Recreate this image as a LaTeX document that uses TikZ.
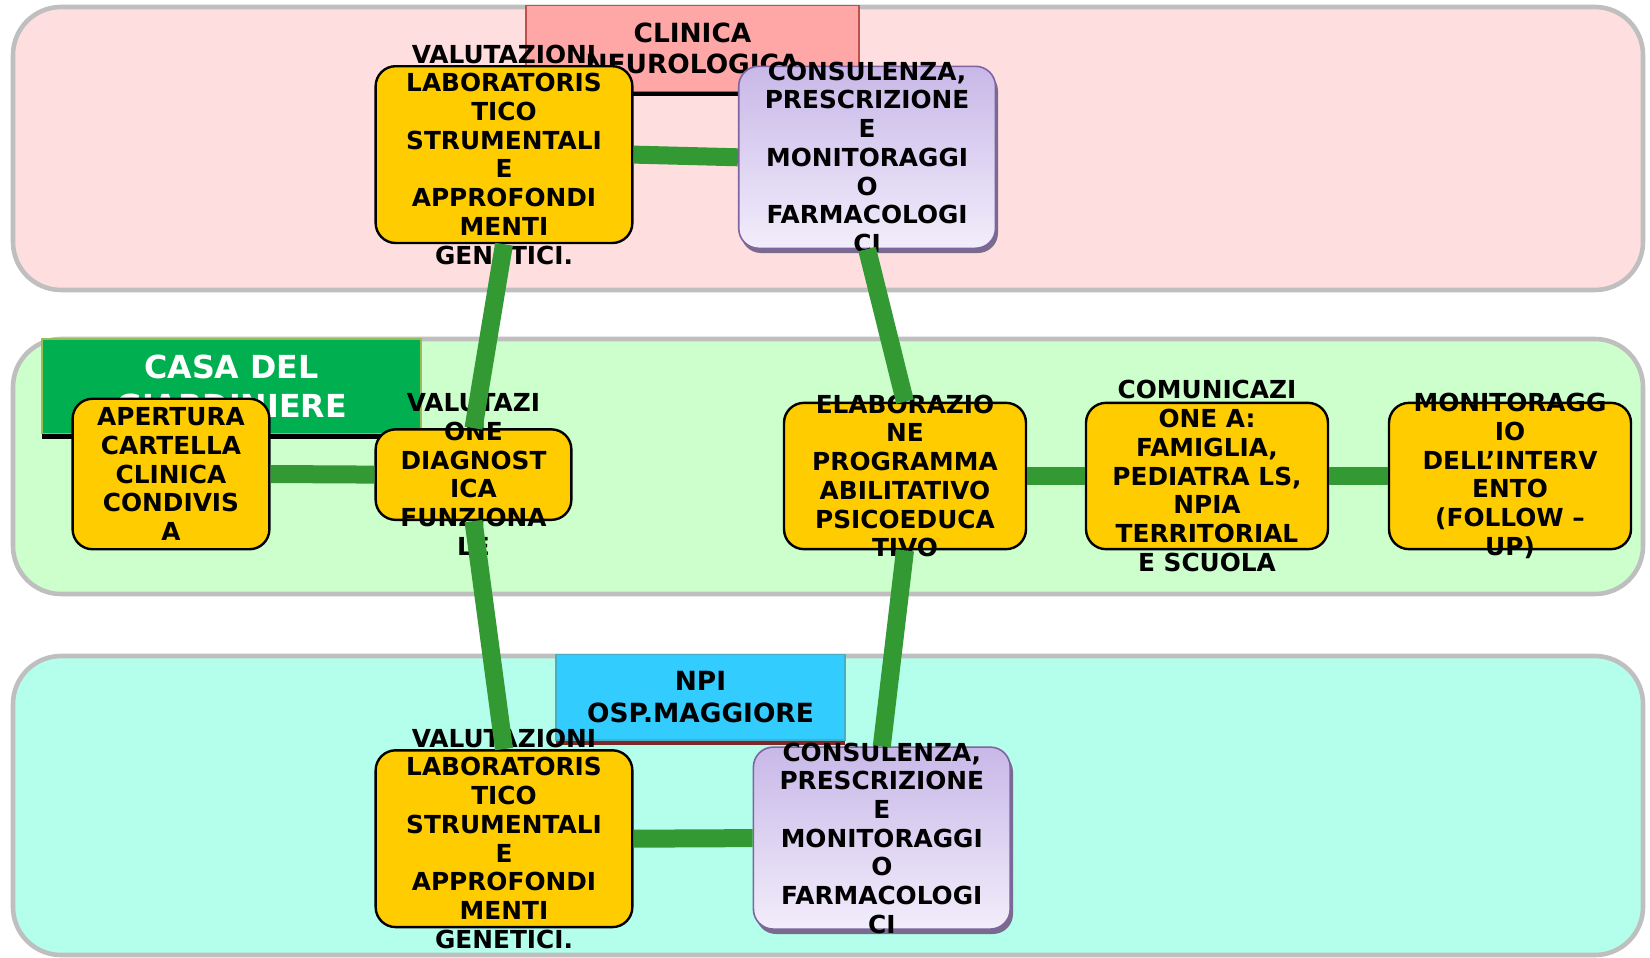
\documentclass[tikz,border=0pt]{standalone}
\usepackage{fontspec}
\setmainfont{DejaVu Sans}

\definecolor{bandedge}{RGB}{191,191,191}
\definecolor{pinkband}{RGB}{255,222,223}
\definecolor{greenband}{RGB}{204,255,204}
\definecolor{aquaband}{RGB}{179,255,236}
\definecolor{stepyellow}{RGB}{255,204,0}
\definecolor{linkgreen}{RGB}{51,153,51}
\definecolor{clinfill}{RGB}{255,166,166}
\definecolor{clinedge}{RGB}{192,80,77}
\definecolor{casafill}{RGB}{0,176,80}
\definecolor{casaedge}{RGB}{155,187,89}
\definecolor{npifill}{RGB}{51,204,255}
\definecolor{npiedge}{RGB}{75,172,198}
\definecolor{npishade}{RGB}{125,40,40}
\definecolor{lilactop}{RGB}{200,184,232}
\definecolor{lilacbot}{RGB}{242,237,251}
\definecolor{lilacedge}{RGB}{128,100,162}
\definecolor{lilacshade}{RGB}{120,108,140}

\begin{document}
\begin{tikzpicture}[x=0.5pt,y=0.5pt,yscale=-1,xscale=1,
  band/.style={draw=bandedge, line width=2.3pt, rounded corners=24pt},
  titlebox/.style={line width=0.6pt, inner sep=0pt, align=center, font=\bfseries\fontsize{13.2}{15.8}\selectfont},
  stepbox/.style={draw=black, line width=1.2pt, fill=stepyellow, rounded corners=10pt, inner sep=0pt},
  lilacbox/.style={draw=lilacedge, line width=0.8pt, top color=lilactop, bottom color=lilacbot, rounded corners=10pt, inner sep=0pt, minimum width=128.4pt, minimum height=91pt},
  boxtext/.style={inner sep=0pt, align=center, font=\bfseries\fontsize{12.4}{14.35}\selectfont},
  link/.style={draw=linkgreen, line width=9pt}]
\useasboundingbox (0,0) rectangle (1650,958);

%Shape: Rounded Rect (bands)
\draw[band, fill=pinkband] (13,7) rectangle (1643,290);
\draw[band, fill=greenband] (13,339) rectangle (1643,594);
\draw[band, fill=aquaband] (13,656) rectangle (1643,955);

%Shape: Rectangle (titles and their shadows)
\fill[black] (528,10) rectangle (859,96);
\node[titlebox, draw=clinedge, fill=clinfill, minimum width=166.5pt, minimum height=43.1pt] (clin) at (692.5,48.4) {CLINICA\\NEUROLOGICA};
\fill[black] (42,344) rectangle (421,439);
\node[titlebox, draw=casaedge, fill=casafill, text=white, minimum width=189.5pt, minimum height=47.25pt, font=\bfseries\fontsize{15.85}{19.5}\selectfont] (casa) at (231.5,386.25) {CASA DEL\\GIARDINIERE};
\fill[npishade] (556,659) rectangle (845,745);
\node[titlebox, draw=npiedge, fill=npifill, minimum width=144.5pt, minimum height=42.75pt] (npi) at (700.5,697.25) {NPI\\OSP.MAGGIORE};

%Shape: shadows of the lilac boxes
\fill[lilacshade, rounded corners=10pt] (741,71) rectangle (998,253);
\fill[lilacshade, rounded corners=10pt] (756,752) rectangle (1013,934);

% Boxes
\node[stepbox, minimum width=128.35pt, minimum height=88.4pt, label={[boxtext]center:{VALUTAZIONI\\LABORATORIS\\TICO\\STRUMENTALI\\E\\APPROFONDI\\MENTI\\GENETICI.}}] (lab1) at (504,154.6) {};
\node[lilacbox, label={[boxtext]center:{CONSULENZA,\\PRESCRIZIONE\\E\\MONITORAGGI\\O\\FARMACOLOGI\\CI}}] (farm1) at (867.1,157.3) {};
\node[stepbox, minimum width=98.4pt, minimum height=75.25pt, label={[boxtext]center:{APERTURA\\CARTELLA\\CLINICA\\CONDIVIS\\A}}] (cart) at (171,474) {};
\node[stepbox, minimum width=97.85pt, minimum height=45.25pt, label={[boxtext]center:{VALUTAZI\\ONE\\DIAGNOST\\ICA\\FUNZIONA\\LE}}] (diag) at (473.5,474.6) {};
\node[stepbox, minimum width=121pt, minimum height=73.15pt, label={[boxtext]center:{ELABORAZIO\\NE\\PROGRAMMA\\ABILITATIVO\\PSICOEDUCA\\TIVO}}] (prog) at (905,476) {};
\node[stepbox, minimum width=121pt, minimum height=73.15pt, label={[boxtext]center:{COMUNICAZI\\ONE A:\\FAMIGLIA,\\PEDIATRA LS,\\NPIA\\TERRITORIAL\\E SCUOLA}}] (comu) at (1207,476) {};
\node[stepbox, minimum width=121pt, minimum height=73.15pt, label={[boxtext]center:{MONITORAGG\\IO\\DELL’INTERV\\ENTO\\(FOLLOW –\\UP)}}] (moni) at (1510,476) {};
\node[stepbox, minimum width=128.35pt, minimum height=88.4pt, label={[boxtext]center:{VALUTAZIONI\\LABORATORIS\\TICO\\STRUMENTALI\\E\\APPROFONDI\\MENTI\\GENETICI.}}] (lab2) at (504,838.7) {};
\node[lilacbox, label={[boxtext]center:{CONSULENZA,\\PRESCRIZIONE\\E\\MONITORAGGI\\O\\FARMACOLOGI\\CI}}] (farm2) at (881.8,838.1) {};

%Straight Lines
\draw[link] (lab1.east) -- (farm1.west);
\draw[link] (lab1.south) -- (diag.north);
\draw[link] (farm1.south) -- (prog.north);
\draw[link] (cart.east) -- (diag.west);
\draw[link] (prog.east) -- (comu.west);
\draw[link] (comu.east) -- (moni.west);
\draw[link] (diag.south) -- (lab2.north);
\draw[link] (prog.south) -- (farm2.north);
\draw[link] (lab2.east) -- (farm2.west);

\end{tikzpicture}
\end{document}
